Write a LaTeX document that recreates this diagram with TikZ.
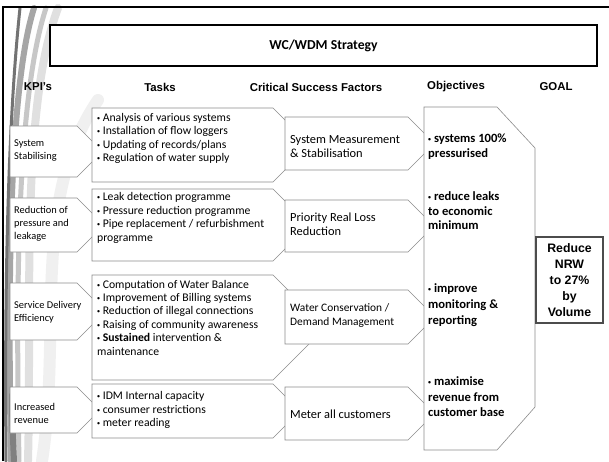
\documentclass[tikz,border=0pt]{standalone}
\usepackage{fontspec}
\setmainfont{Carlito}
\newfontfamily\headfont{Liberation Sans}
\usepackage{tikz}

% pentagon "home plate" box: x1 y1 x2 y2, tip is half the height deep
\newcommand{\arrowplate}[4]{%
  \draw[platebox] (#1,#2) -- (#3,#2) -- ({#3+(#4-#2)/2},{(#2+#4)/2})
    -- (#3,#4) -- (#1,#4) -- cycle;}
% small bullet as in the slide
\newcommand{\bul}{{\headfont\fontsize{8.5}{0}\selectfont •}}

\begin{document}
\begin{tikzpicture}[x=1pt,y=-1pt,
    platebox/.style={draw=black!45, line width=0.6pt, fill=white},
    kpitext/.style={anchor=west, align=left, inner sep=0pt, font=\fontsize{10.4}{13}\selectfont},
    tasktext/.style={anchor=west, align=left, inner sep=0pt, font=\fontsize{11.7}{13.4}\selectfont},
    csftext/.style={anchor=west, align=left, inner sep=0pt, font=\fontsize{12.4}{13.8}\selectfont},
    objtext/.style={anchor=west, align=left, inner sep=0pt, font=\bfseries\fontsize{12.6}{14.5}\selectfont},
    heading/.style={inner sep=0pt, font=\headfont\bfseries\fontsize{11.4}{13}\selectfont},
  ]
  \fill[white] (0,0) rectangle (609,461);
  \useasboundingbox (0,0) rectangle (609,461);

  % left swirl of the slide theme
  \begin{scope}[line cap=round]
    \draw[black!6, line width=12pt] (42,461) .. controls (62,330) and (30,200) .. (98,100);
    \draw[black!12, line width=8pt] (28,461) .. controls (32,300) and (20,110) .. (58,8);
    \draw[black!22, line width=5pt] (19,461) .. controls (16,300) and (16,100) .. (46,8);
    \draw[black!35, line width=6pt] (11,461) .. controls (8,300) and (8,90) .. (34,8);
    \draw[black!55, line width=3pt] (6,461) .. controls (5,350) and (5,150) .. (20,8);
    \draw[black!50, line width=6pt] (14,461) .. controls (13,440) and (12,420) .. (12,395);
  \end{scope}
  \draw[line width=1.5pt] (3,461) -- (3,7) -- (609,7);

  \node[draw, line width=1.2pt, fill=white, minimum width=547pt, minimum height=41pt,
    font=\bfseries\fontsize{13.7}{16}\selectfont] (title) at (323.5,45.5) {WC/WDM Strategy};

  \node[heading] (hkpi) at (38,87) {KPI’s};
  \node[heading] (htasks) at (160,87) {Tasks};
  \node[heading] (hcsf) at (316,87) {Critical Success Factors};
  \node[heading] (hobj) at (456,87) {Objectives};
  \node[heading] (hgoal) at (556,87) {GOAL};

  % KPI column
  \arrowplate{10}{126}{77}{177}
  \arrowplate{10}{198}{77}{252}
  \arrowplate{10}{283}{77}{340}
  \arrowplate{10}{387}{77}{433}
  \node[kpitext] (kpi1) at (14,151) {System\\Stabilising};
  \node[kpitext] (kpi2) at (14,224) {Reduction of\\pressure and\\leakage};
  \node[kpitext] (kpi3) at (14,312.5) {Service Delivery\\Efficiency};
  \node[kpitext] (kpi4) at (14,413) {Increased\\revenue};

  % tasks column
  \arrowplate{92}{108}{273}{182}
  \arrowplate{92}{189}{273}{261}
  \arrowplate{92}{275}{273}{380}
  \arrowplate{92}{384}{273}{438}
  \node[tasktext] (task1) at (97,138.5) {\bul{} Analysis of various systems\\\bul{} Installation of flow loggers\\
    \bul{} Updating of records/plans\\\bul{} Regulation of water supply};
  \node[tasktext] (task2) at (97,218) {\bul{} Leak detection programme\\\bul{} Pressure reduction programme\\
    \bul{} Pipe replacement / refurbishment\\programme};
  \node[tasktext] (task3) at (97,317.5) {\bul{} Computation of Water Balance\\\bul{} Improvement of Billing systems\\
    \bul{} Reduction of illegal connections\\\bul{} Raising of community awareness\\
    \bul{} \textbf{Sustained} intervention \&\\maintenance};
  \node[tasktext] (task4) at (97,410) {\bul{} IDM Internal capacity\\\bul{} consumer restrictions\\\bul{} meter reading};

  % critical success factors
  \arrowplate{285}{117}{408}{170}
  \arrowplate{285}{200}{408}{252}
  \arrowplate{285}{290}{408}{344}
  \arrowplate{285}{387}{408}{440}
  \node[csftext] (csf1) at (290,146.5) {System Measurement\\\& Stabilisation};
  \node[csftext] (csf2) at (290,224) {Priority Real Loss\\Reduction};
  \node[csftext, font=\fontsize{11.4}{14}\selectfont] (csf3) at (290,316) {Water Conservation /\\Demand Management};
  \node[csftext] (csf4) at (290,414) {Meter all customers};

  % objectives
  \draw[platebox] (424,107) -- (497,107) -- (535,148) -- (535,407) -- (497,450) -- (424,450) -- cycle;
  \node[objtext] (obj1) at (428,146.5) {\bul{} systems 100\%\\pressurised};
  \node[objtext] (obj2) at (428,211) {\bul{} reduce leaks\\to economic\\minimum};
  \node[objtext, font=\bfseries\fontsize{12.6}{16}\selectfont] (obj3) at (428,305) {\bul{} improve\\monitoring \&\\reporting};
  \node[objtext, font=\bfseries\fontsize{12.6}{15.5}\selectfont] (obj4) at (428,397) {\bul{} maximise\\revenue from\\customer base};

  % goal
  \node[draw=black!70, line width=1.3pt, fill=white, minimum width=67pt, minimum height=86pt,
    inner sep=0pt, align=center, font=\headfont\bfseries\fontsize{12.3}{15.8}\selectfont]
    (goal) at (569.5,280) {Reduce\\NRW\\to 27\%\\by\\Volume};
\end{tikzpicture}
\end{document}
